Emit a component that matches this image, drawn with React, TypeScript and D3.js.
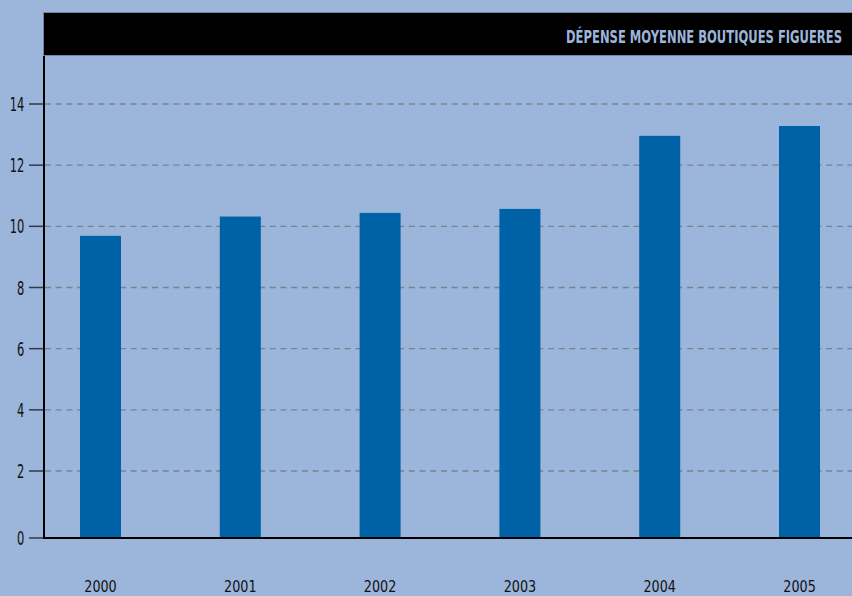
import React, { useLayoutEffect, useRef, useState } from "react";
import * as d3 from "d3";

const years = ["2000", "2001", "2002", "2003", "2004", "2005"];
const values = [9.69, 10.32, 10.44, 10.57, 12.96, 13.28];
const gridTicks = [2, 4, 6, 8, 10, 12, 14];
const axisMin = -0.19;
const title = "DÉPENSE MOYENNE BOUTIQUES FIGUERES";

const W = 852;
const H = 596;
const FONT = "'DejaVu Sans Condensed', 'Liberation Sans Narrow', 'Roboto', sans-serif";

type FitProps = {
  x: number;
  y: number;
  anchor: "start" | "middle" | "end";
  width: number;
  fontSize: number;
  fill: string;
  bold?: boolean;
  children: string;
};

function FitText({ x, y, anchor, width, fontSize, fill, bold, children }: FitProps) {
  const ref = useRef<SVGTextElement>(null);
  const [sx, setSx] = useState(0.75);
  useLayoutEffect(() => {
    if (ref.current) {
      const bb = ref.current.getBBox();
      const w = bb.width;
      if (w > 0) setSx(width / w);
    }
  }, [width, children, fontSize]);
  return (
    <text
      ref={ref}
      x={0}
      y={0}
      textAnchor={anchor}
      fontFamily={FONT}
      fontSize={fontSize}
      fontWeight={bold ? "bold" : "normal"}
      fill={fill}
      transform={`translate(${x},${y}) scale(${sx},1)`}
    >
      {children}
    </text>
  );
}

export default function App() {
  const x = d3.scalePoint<string>().domain(years).range([100.5, 799.5]);
  const y = d3.scaleLinear().domain([2, 14]).range([471, 104]);
  const y0 = y(axisMin);
  const barW = 41;
  const tickRows = [...gridTicks.map((t) => ({ v: t, pos: y(t), label: String(t) })), { v: 0, pos: y0, label: "0" }];
  return (
    <svg
      width={W}
      height={H}
      style={{ position: "absolute", left: 0, top: 0, display: "block" }}
    >
      <rect x={0} y={0} width={W} height={H} fill="#9cb5da" />
      {/* header */}
      <rect x={43.5} y={12.5} width={W} height={43} fill="#000" stroke="#6f86a8" strokeWidth={1} />
      <FitText x={842} y={42.7} anchor="end" width={276} fontSize={18} fill="#9cb5da" bold>
        {title}
      </FitText>
      {/* grid */}
      {gridTicks.map((t) => (
        <line
          key={"g" + t}
          x1={45}
          x2={W}
          y1={y(t)}
          y2={y(t)}
          stroke="#7a8290"
          strokeWidth={1.3}
          strokeDasharray="6,4.7"
        />
      ))}
      {/* bars */}
      {years.map((yr, i) => (
        <rect
          key={yr}
          x={(x(yr) as number) - barW / 2}
          y={y(values[i])}
          width={barW}
          height={y0 - y(values[i])}
          fill="#0062a6"
        />
      ))}
      {/* ticks & labels */}
      {tickRows.map((t) => (
        <g key={"t" + t.v}>
          <line x1={29} x2={44} y1={t.pos} y2={t.pos} stroke="#2f3a4a" strokeWidth={1.5} />
          <FitText x={24.3} y={t.pos + 7.1} anchor="end" width={t.label.length * 7.3} fontSize={19.5} fill="#111">
            {t.label}
          </FitText>
        </g>
      ))}
      {/* axes */}
      <line x1={44} x2={44} y1={56} y2={y0 + 1} stroke="#000" strokeWidth={2} />
      <line x1={43} x2={W} y1={y0} y2={y0} stroke="#000" strokeWidth={2} />
      {/* x labels */}
      {years.map((yr) => (
        <FitText key={"x" + yr} x={x(yr) as number} y={592.3} anchor="middle" width={32.5} fontSize={15.5} fill="#111">
          {yr}
        </FitText>
      ))}
    </svg>
  );
}
